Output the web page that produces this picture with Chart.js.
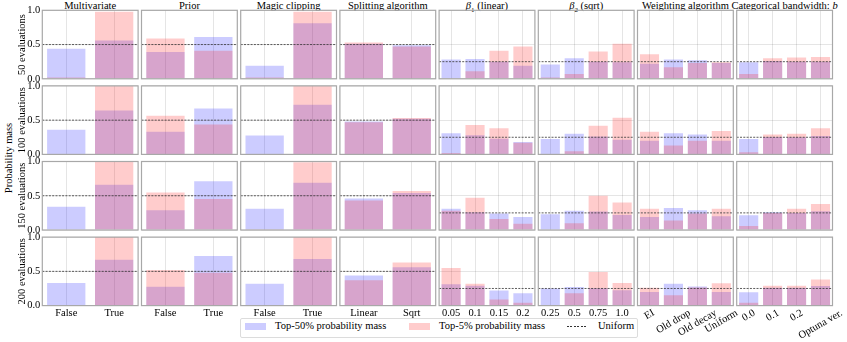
<!DOCTYPE html>
<html>
<head>
<meta charset="utf-8">
<script src="https://cdn.jsdelivr.net/npm/chart.js@4.4.0/dist/chart.umd.min.js"></script>
<style>
  body { margin: 0; background: #fff; width: 847px; height: 342px; overflow: hidden; position: relative;
         font-family: "Liberation Serif", "Times New Roman", serif; color: #000; }
  canvas { position: absolute; left: 0; top: 0; }
  .ttl { position: absolute; top: 0.5px; font-size: 10.5px; line-height: 10.5px; text-align: center; white-space: nowrap; }
  .ylab { position: absolute; left: 7.5px; top: 158px; font-size: 10.5px; white-space: nowrap;
          transform: translate(-50%, -50%) rotate(-90deg); }
  .legend { position: absolute; left: 240px; top: 318px; width: 396px; height: 18px; border: 1px solid #dcdcdc; border-radius: 2px; }
  .lg { position: absolute; font-size: 10.5px; line-height: 12px; top: 320px; white-space: nowrap; }
  .patch { position: absolute; top: 322.5px; width: 21px; height: 7px; }
</style>
</head>
<body>
<div class="ylab">Probability mass</div>
<div id="titles"></div>
<div class="legend"></div>
<div class="patch" style="left:245px;background:rgba(0,0,255,0.2)"></div>
<div class="lg" style="left:275px">Top-50% probability mass</div>
<div class="patch" style="left:409px;background:rgba(255,0,0,0.2)"></div>
<div class="lg" style="left:439px">Top-5% probability mass</div>
<div style="position:absolute;left:567px;top:326px;width:21px;height:1px;background:repeating-linear-gradient(to right,#333 0 2px,transparent 2px 3.5px)"></div>
<div class="lg" style="left:598px">Uniform</div>
<script>
// column titles (HTML so the beta / subscript / italic can be kept)
const columnTitles = ['Multivariate', 'Prior', 'Magic clipping', 'Splitting algorithm',
  '<i>β</i><sub style="font-size:7px">1</sub> (linear)', '<i>β</i><sub style="font-size:7px">2</sub> (sqrt)',
  'Weighting algorithm', 'Categorical bandwidth: <i>b</i>'];
const rowLabels = ['50 evaluations', '100 evaluations', '150 evaluations', '200 evaluations'];
const categories = [
  ['False', 'True'], ['False', 'True'], ['False', 'True'], ['Linear', 'Sqrt'],
  ['0.05', '0.1', '0.15', '0.2'], ['0.25', '0.5', '0.75', '1.0'],
  ['EI', 'Old drop', 'Old decay', 'Uniform'], ['0.0', '0.1', '0.2', 'Optuna ver.']
];
const uniform = [0.5, 0.5, 0.5, 0.5, 0.25, 0.25, 0.25, 0.25];
const yTicks = [0, 0.5, 1.0];

// top-50% / top-5% probability mass, one list per number of evaluations
const top50Eval50  = [[0.44, 0.56], [0.39, 0.61], [0.19, 0.81], [0.51, 0.49], [0.28, 0.29, 0.25, 0.19], [0.21, 0.30, 0.25, 0.24], [0.22, 0.28, 0.27, 0.23], [0.24, 0.26, 0.25, 0.25]];
const top5Eval50   = [[0.02, 0.98], [0.59, 0.41], [0.02, 0.98], [0.53, 0.47], [0.01, 0.11, 0.41, 0.47], [0.02, 0.07, 0.40, 0.51], [0.36, 0.17, 0.23, 0.24], [0.07, 0.30, 0.31, 0.32]];
const top50Eval100 = [[0.36, 0.64], [0.33, 0.67], [0.275, 0.725], [0.48, 0.52], [0.31, 0.28, 0.23, 0.18], [0.225, 0.30, 0.26, 0.215], [0.20, 0.31, 0.29, 0.20], [0.225, 0.255, 0.25, 0.27]];
const top5Eval100  = [[0.0, 1.0], [0.565, 0.435], [0.0, 1.0], [0.47, 0.53], [0.02, 0.43, 0.38, 0.17], [0.0, 0.045, 0.42, 0.535], [0.33, 0.13, 0.20, 0.34], [0.03, 0.29, 0.30, 0.38]];
const top50Eval150 = [[0.34, 0.66], [0.29, 0.71], [0.31, 0.69], [0.46, 0.54], [0.31, 0.26, 0.24, 0.19], [0.23, 0.28, 0.27, 0.22], [0.19, 0.32, 0.29, 0.20], [0.215, 0.26, 0.25, 0.275]];
const top5Eval150  = [[0.0, 1.0], [0.546, 0.454], [0.01, 0.99], [0.43, 0.57], [0.28, 0.47, 0.16, 0.09], [0.0, 0.10, 0.50, 0.40], [0.31, 0.14, 0.24, 0.31], [0.06, 0.25, 0.31, 0.38]];
const top50Eval200 = [[0.33, 0.67], [0.275, 0.725], [0.32, 0.68], [0.44, 0.56], [0.31, 0.29, 0.22, 0.18], [0.25, 0.27, 0.255, 0.225], [0.20, 0.32, 0.28, 0.20], [0.195, 0.26, 0.26, 0.285]];
const top5Eval200  = [[0.0, 1.0], [0.52, 0.48], [0.0, 1.0], [0.37, 0.63], [0.55, 0.32, 0.09, 0.04], [0.0, 0.18, 0.49, 0.33], [0.26, 0.15, 0.265, 0.325], [0.04, 0.29, 0.29, 0.38]];

const top50 = [top50Eval50, top50Eval100, top50Eval150, top50Eval200];
const top5 = [top5Eval50, top5Eval100, top5Eval150, top5Eval200];

// layout of the 4x8 grid of panels
const W = 847, H = 342;
const colLeft0 = 42.3, colStep = 99.2, panelW = 95.8;
const rowTop0 = 10.3, rowStep = 75.6, panelH = 68.5;
const FONT = '"Liberation Serif", "Times New Roman", serif';
const FS = 10.5;

const titles = document.getElementById('titles');
columnTitles.forEach((t, c) => {
  const d = document.createElement('div');
  d.className = 'ttl';
  d.style.left = (colLeft0 + c * colStep - 10) + 'px';
  d.style.width = (panelW + 20) + 'px';
  d.innerHTML = t;
  titles.appendChild(d);
});

// box round each panel, like matplotlib spines
const framePlugin = {
  id: 'frame',
  afterDraw(chart) {
    const {ctx, chartArea: a} = chart;
    ctx.save();
    ctx.strokeStyle = '#a8a8a8';
    ctx.lineWidth = 1.2;
    ctx.strokeRect(a.left, a.top, a.right - a.left, a.bottom - a.top);
    ctx.restore();
  }
};

// rotated tick labels centred on their tick (matplotlib rotation=30)
const slantTicks = {
  id: 'slantTicks',
  afterDraw(chart, args, opts) {
    if (!opts.on) return;
    const scale = chart.scales.x, ctx = chart.ctx;
    const ang = Math.PI / 6;
    ctx.save();
    ctx.font = FS + 'px ' + FONT;
    ctx.fillStyle = '#000';
    ctx.textAlign = 'center';
    ctx.textBaseline = 'middle';
    chart.data.labels.forEach((lab, i) => {
      const w = ctx.measureText(lab).width;
      const bh = w * Math.sin(ang) + FS * 0.8 * Math.cos(ang);
      const x = scale.getPixelForTick(i);
      const y = chart.chartArea.bottom + 3 + bh / 2;
      ctx.save();
      ctx.translate(x, y);
      ctx.rotate(-ang);
      ctx.fillText(lab, 0, 0);
      ctx.restore();
    });
    ctx.restore();
  }
};

function makeChart(r, c) {
  const cv = document.createElement('canvas');
  cv.width = W;
  cv.height = H;
  document.body.appendChild(cv);
  const left = colLeft0 + c * colStep;
  const top = rowTop0 + r * rowStep;
  const first = c === 0, bottom = r === 3, slant = c >= 6;
  const yW = first ? left : 0;
  const xH = bottom ? H - top - panelH : 0;
  const u = uniform[c];

  return new Chart(cv, {
    type: 'bar',
    data: {
      labels: categories[c],
      datasets: [
        {
          label: 'Top-50% probability mass',
          data: top50[r][c],
          backgroundColor: 'rgba(0, 0, 255, 0.2)',
          grouped: false, order: 2,
          barPercentage: 0.8, categoryPercentage: 1
        },
        {
          label: 'Top-5% probability mass',
          data: top5[r][c],
          backgroundColor: 'rgba(255, 0, 0, 0.2)',
          grouped: false, order: 1,
          barPercentage: 0.8, categoryPercentage: 1
        },
        {
          type: 'line',
          label: 'Uniform',
          xAxisID: 'xu',
          data: [{x: 0, y: u}, {x: 1, y: u}],
          borderColor: '#333',
          borderWidth: 0.8,
          borderDash: [2, 1.3],
          pointRadius: 0,
          order: 0
        }
      ]
    },
    options: {
      responsive: false,
      animation: false,
      events: [],
      layout: {
        padding: {left: left - yW, top: top, right: W - left - panelW, bottom: H - top - panelH - xH}
      },
      plugins: {
        legend: {display: false},
        tooltip: {enabled: false},
        slantTicks: {on: bottom && slant}
      },
      scales: {
        x: {
          grid: {offset: false, color: 'rgba(0,0,0,0.1)', drawTicks: false},
          border: {display: false},
          ticks: {display: bottom && !slant, padding: 1, color: '#000', font: {family: FONT, size: FS}, maxRotation: 0, autoSkip: false},
          afterFit: s => { s.height = xH; }
        },
        xu: {type: 'linear', min: 0, max: 1, display: false, offset: false, grid: {offset: false}},
        y: {
          min: 0, max: 1,
          afterBuildTicks: s => { s.ticks = yTicks.map(v => ({value: v})); },
          grid: {color: 'rgba(0,0,0,0.1)', drawTicks: false},
          border: {display: false},
          ticks: {display: first, padding: 2, color: '#000', font: {family: FONT, size: FS}, callback: v => v.toFixed(1)},
          title: {display: first, text: rowLabels[r], color: '#000', font: {family: FONT, size: FS}, padding: {top: 16, bottom: 0}},
          afterFit: s => { s.width = yW; }
        }
      }
    },
    plugins: [framePlugin, slantTicks]
  });
}

for (let r = 0; r < 4; r++) {
  for (let c = 0; c < 8; c++) makeChart(r, c);
}
</script>
</body>
</html>
